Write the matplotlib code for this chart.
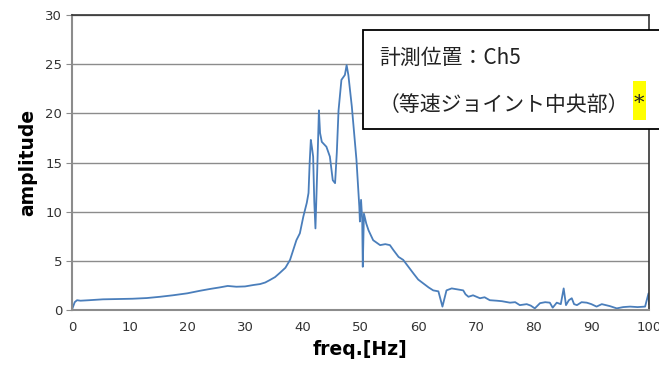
import matplotlib
matplotlib.use('Agg')
import matplotlib.pyplot as plt
from matplotlib.patches import Rectangle

# spectrum
freq = [0.0, 0.5, 0.9, 1.5, 3.0, 5.4, 8.0, 10.5, 13.0, 15.3, 17.5, 20.0, 22.2, 24.0, 25.6,
        27.0, 28.5, 30.0, 31.5, 32.6, 33.5, 34.3, 35.2, 36.0, 37.0, 37.8, 38.9, 39.5,
        40.1, 40.7, 41.0, 41.2, 41.4, 41.6, 41.8, 42.0, 42.2, 42.5, 42.8, 43.0, 43.3,
        44.1, 44.7, 45.2, 45.6, 45.9, 46.2, 46.7, 47.3, 47.6, 47.9, 48.5, 49.3, 49.8,
        49.9, 50.1, 50.3, 50.4, 50.6, 51.0, 51.4, 52.2, 53.4, 54.3, 55.1, 55.7, 56.6,
        57.4, 58.3, 59.2, 60.0, 60.9, 61.8, 62.6, 63.5, 64.2, 64.9, 65.8, 66.8, 67.8,
        68.2, 68.7, 69.5, 70.7, 71.5, 72.4, 73.6, 74.5, 75.9, 76.8, 77.6, 78.8, 79.5,
        80.2, 81.1, 82.0, 82.8, 83.3, 84.0, 84.7, 85.2, 85.6, 86.1, 86.6, 87.0, 87.5,
        88.3, 89.2, 90.0, 90.9, 91.8, 92.5, 93.2, 94.4, 95.5, 96.7, 98.0, 99.3, 99.9,
        100.0]
amp = [0.0, 0.8, 1.0, 0.95, 1.0, 1.09, 1.12, 1.15, 1.22, 1.35, 1.5, 1.7, 1.96, 2.15, 2.3,
       2.45, 2.37, 2.4, 2.55, 2.64, 2.8, 3.05, 3.35, 3.76, 4.3, 5.1, 7.1, 7.8,
       9.5, 10.9, 11.9, 15.0, 17.3, 16.5, 15.6, 11.0, 8.3, 14.0, 20.3, 18.0, 17.1,
       16.6, 15.6, 13.2, 12.9, 16.0, 20.3, 23.4, 23.9, 24.9, 23.9, 20.7, 15.3, 10.5,
       9.0, 11.2, 9.2, 4.4, 9.8, 8.8, 8.1, 7.1, 6.6, 6.7, 6.6, 6.1, 5.4,
       5.1, 4.4, 3.7, 3.1, 2.7, 2.3, 2.0, 1.9, 0.35, 2.0, 2.2, 2.1, 2.0,
       1.6, 1.35, 1.5, 1.2, 1.3, 1.0, 0.95, 0.9, 0.75, 0.8, 0.5, 0.6, 0.45,
       0.17, 0.7, 0.8, 0.75, 0.24, 0.75, 0.6, 2.2, 0.5, 1.0, 1.2, 0.6, 0.5,
       0.8, 0.75, 0.6, 0.35, 0.6, 0.5, 0.4, 0.17, 0.3, 0.35, 0.3, 0.35, 1.7,
       0.6]

yticks = [0, 5, 10, 15, 20, 25, 30]
xticks = [0, 10, 20, 30, 40, 50, 60, 70, 80, 90, 100]

fig = plt.figure(figsize=(6.59, 3.74), dpi=100)
ax = fig.add_axes([0.109, 0.171, 0.876, 0.789])

ax.plot(freq, amp, color='#4a7ebb', lw=1.3)

ax.set_xlim(0, 100)
ax.set_ylim(0, 30)
ax.set_xticks(xticks)
ax.set_yticks(yticks)
ax.grid(axis='y', color='#8c8c8c', lw=1.0)
ax.set_axisbelow(True)

for s in ['left', 'bottom']:
    ax.spines[s].set_color('#8c8c8c')
    ax.spines[s].set_linewidth(1.5)
for s in ['top', 'right']:
    ax.spines[s].set_color('#333333')
    ax.spines[s].set_linewidth(1.2)

ax.tick_params(axis='y', length=4, color='#8c8c8c', labelsize=9.5, labelcolor='#333333', pad=3)
ax.tick_params(axis='x', length=0, labelsize=9.5, labelcolor='#333333', pad=8)

ax.set_xlabel('freq.[Hz]', fontsize=13.5, fontweight='bold', labelpad=4)
ax.set_ylabel('amplitude', fontsize=13.5, fontweight='bold', labelpad=6)

# annotation box
box = Rectangle((0.551, 0.655), 0.47, 0.265, transform=fig.transFigure,
                facecolor='white', edgecolor='black', lw=1.3, clip_on=False, zorder=5)
fig.patches.append(box)
hl = Rectangle((0.9605, 0.679), 0.0197, 0.104, transform=fig.transFigure,
               facecolor='#ffff00', edgecolor='none', zorder=6)
fig.patches.append(hl)
jp = ['Noto Sans CJK JP', 'DejaVu Sans']
fig.text(0.575, 0.845, '計測位置：Ch5', fontsize=15, family=jp, va='center', color='#222222', zorder=7)
fig.text(0.574, 0.719, '（等速ジョイント中央部）', fontsize=15, family=jp, va='center', color='#222222', zorder=7)
fig.text(0.970, 0.722, '*', fontsize=15, family='DejaVu Serif', va='center', ha='center', color='#222222', zorder=7)

fig.savefig('out.png', dpi=100)
